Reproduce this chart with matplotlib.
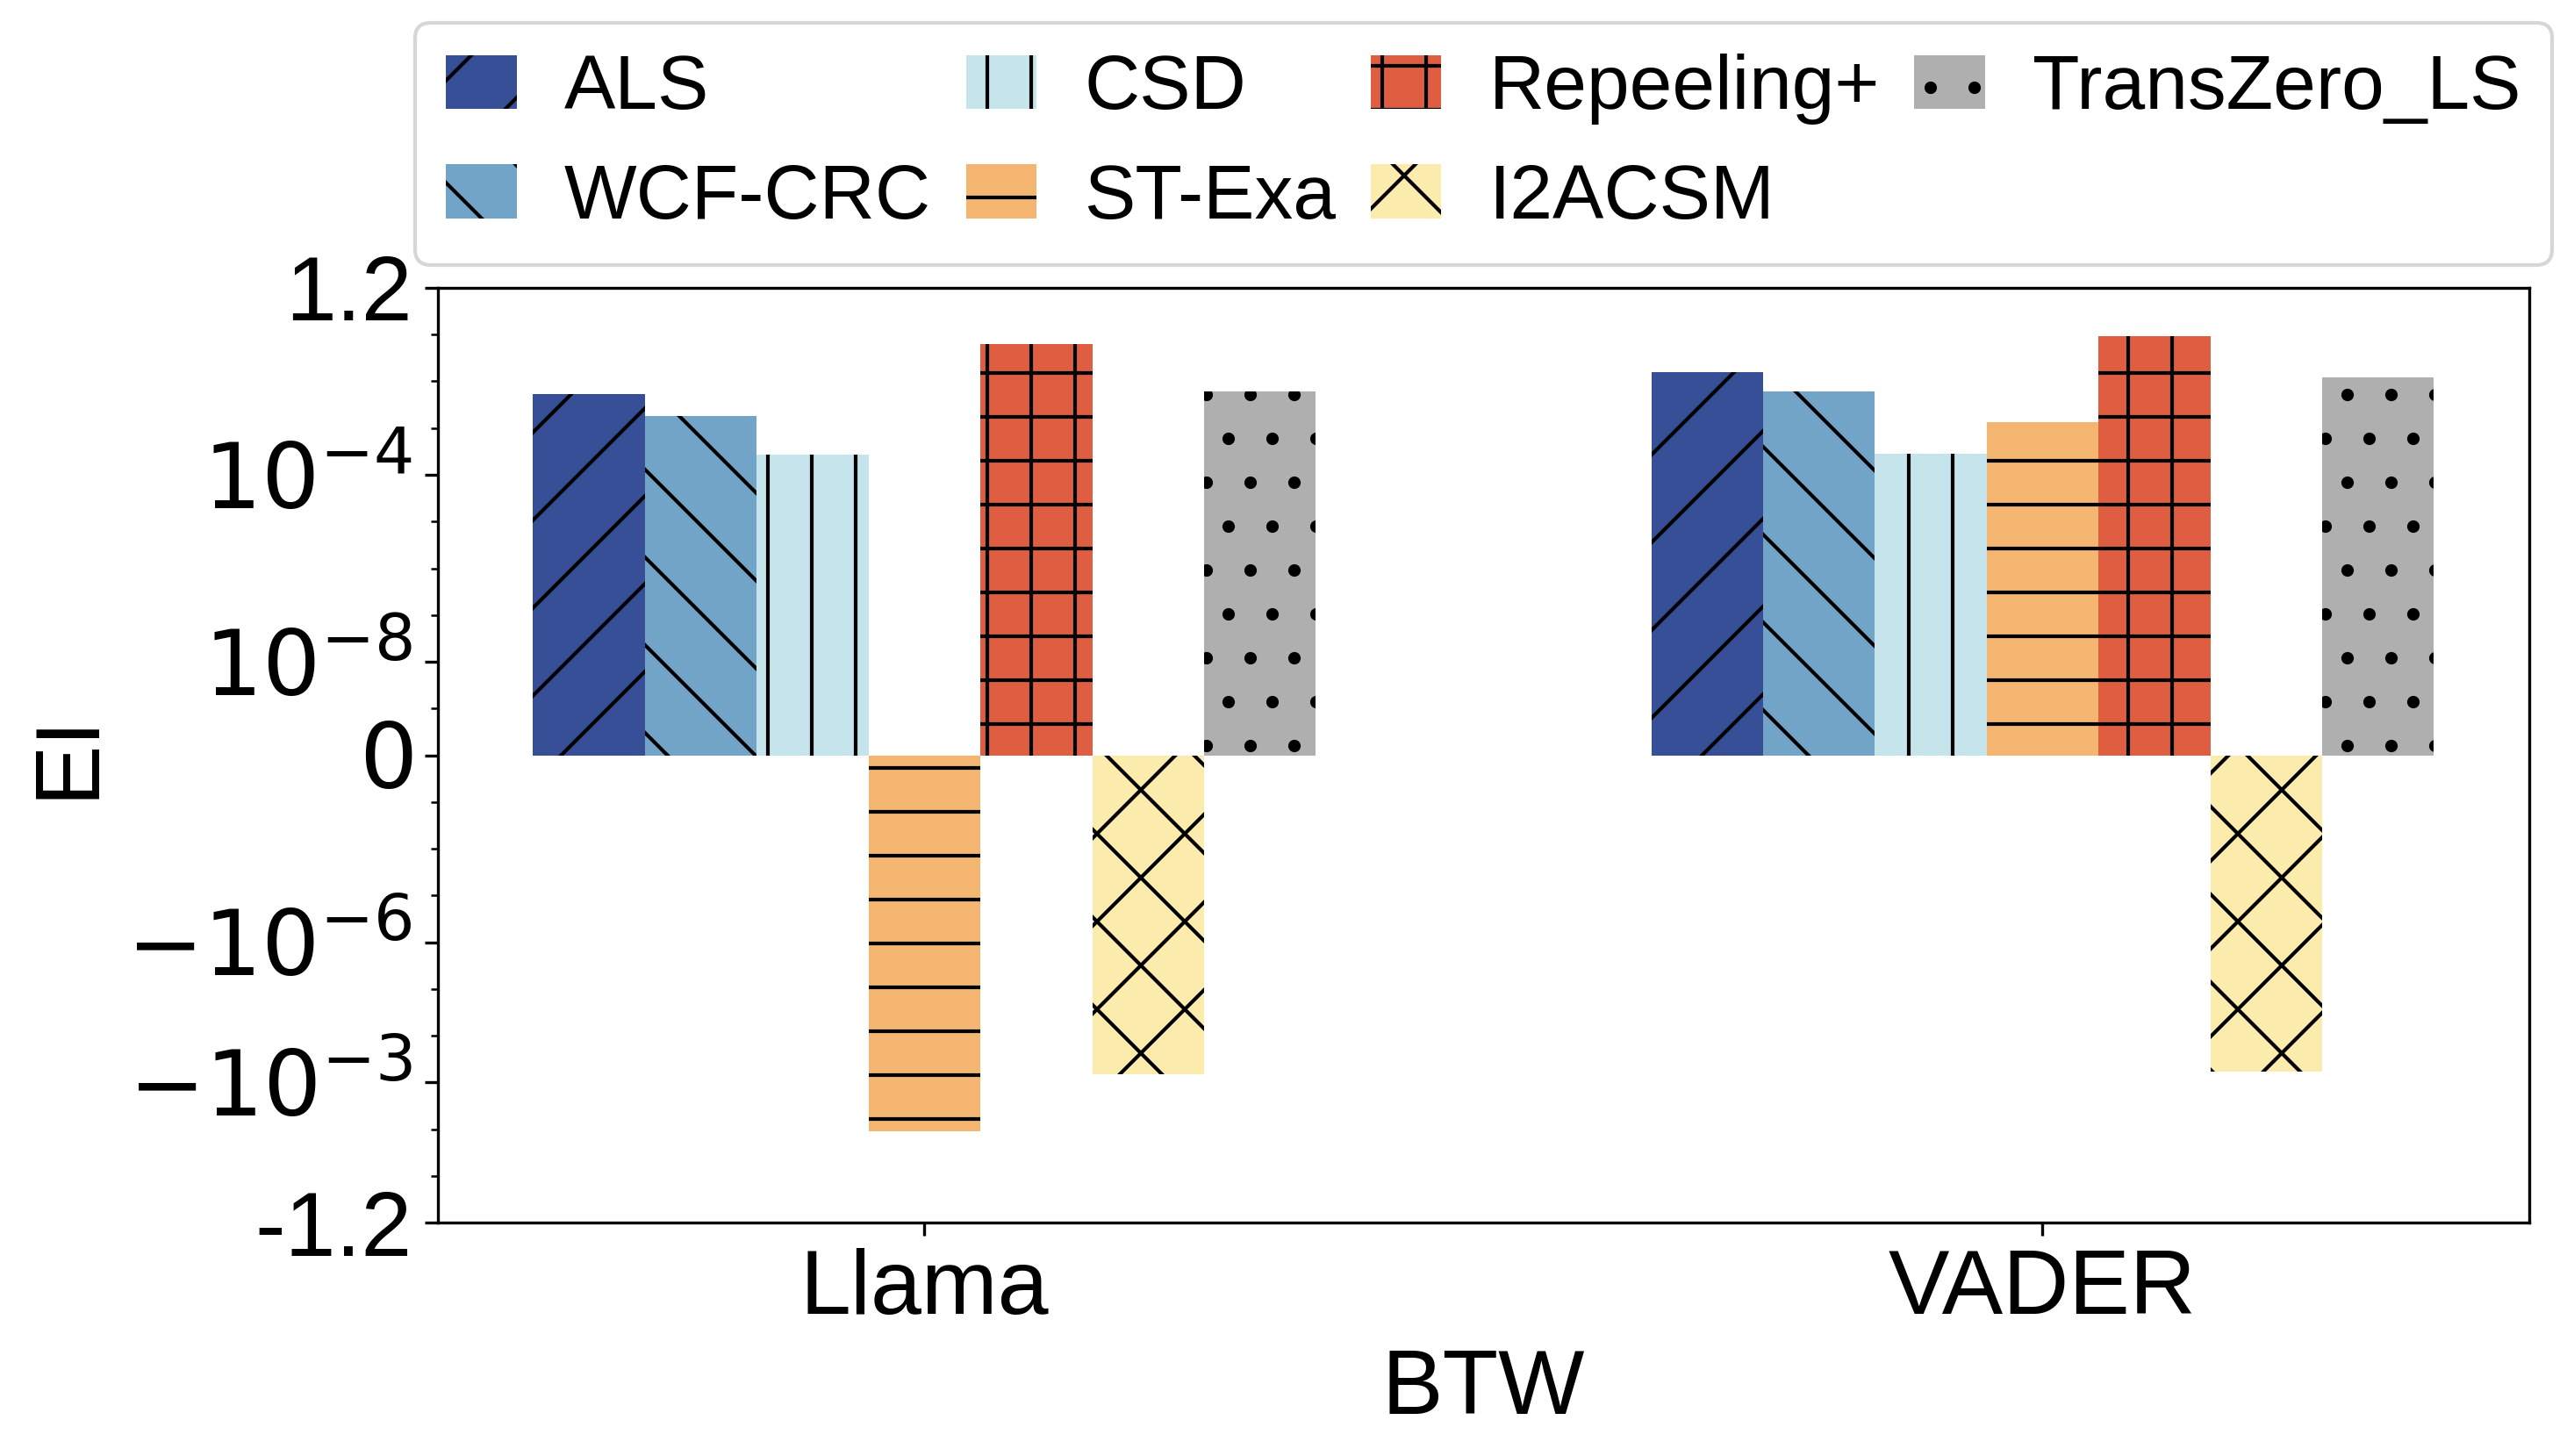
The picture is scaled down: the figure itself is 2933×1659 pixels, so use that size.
#!/usr/bin/env python3
# -*- coding: utf-8 -*-

import numpy as np
import matplotlib
matplotlib.use('Agg')
import matplotlib.pyplot as plt

# data (bar heights on the warped EI axis)
groups = ['Llama', 'VADER']
methods = ['ALS', 'WCF-CRC', 'CSD', 'ST-Exa', 'Repeeling+', 'I2ACSM', 'TransZero_LS']
als = [0.928, 0.984]
wcf_crc = [0.870, 0.933]
csd = [0.771, 0.775]
st_exa = [-0.966, 0.856]
repeeling = [1.056, 1.076]
i2acsm = [-0.820, -0.813]
transzero = [0.933, 0.971]

colors = ['#364f97', '#71a4c7', '#c6e4ec', '#f4b570', '#df5d40', '#fbebac', '#afafaf']
hatches = ['/', '\\', '|', '-', '+', 'x', '.']

ytick_pos = [-1.2, -0.84, -0.48, 0.0, 0.24, 0.72, 1.2]
ytick_labels = ['-1.2', r'$-10^{-3}$', r'$-10^{-6}$', r'$0$',
                r'$10^{-8}$', r'$10^{-4}$', '1.2']
yminor_pos = [-1.08, -0.96, -0.72, -0.6, -0.36, -0.24, -0.12, 0.12,
              0.36, 0.48, 0.6, 0.84, 0.96, 1.08]


def main():
    plt.rcParams['font.family'] = ['Liberation Sans', 'DejaVu Sans']
    plt.rcParams['hatch.linewidth'] = 1.0

    series = [als, wcf_crc, csd, st_exa, repeeling, i2acsm, transzero]

    fig, ax = plt.subplots(figsize=(2933 / 300, 1659 / 300), dpi=300)
    fig.subplots_adjust(left=0.1702, right=0.9825, bottom=0.1603, top=0.8023)

    x = np.arange(len(groups))
    width = 0.1
    n = len(series)
    for i, vals in enumerate(series):
        ax.bar(x + (i - (n - 1) / 2) * width, vals, width,
               color=colors[i], hatch=hatches[i], edgecolor='black',
               linewidth=0, label=methods[i])

    ax.set_ylim(-1.2, 1.2)
    ax.set_yticks(ytick_pos)
    ax.set_yticklabels(ytick_labels)
    ax.set_yticks(yminor_pos, minor=True)
    ax.set_xticks(x)
    ax.set_xticklabels(groups)
    ax.tick_params(axis='both', labelsize=25)

    ax.set_xlabel('BTW', fontsize=25)
    ax.set_ylabel('EI', fontsize=25)

    ax.legend(loc='lower center', bbox_to_anchor=(0.5, 1.0), ncol=4,
              fontsize=21, handlelength=0.92, handletextpad=0.62,
              columnspacing=0.45, borderaxespad=0.3)

    fig.savefig('out.png', dpi=300)


if __name__ == '__main__':
    main()
